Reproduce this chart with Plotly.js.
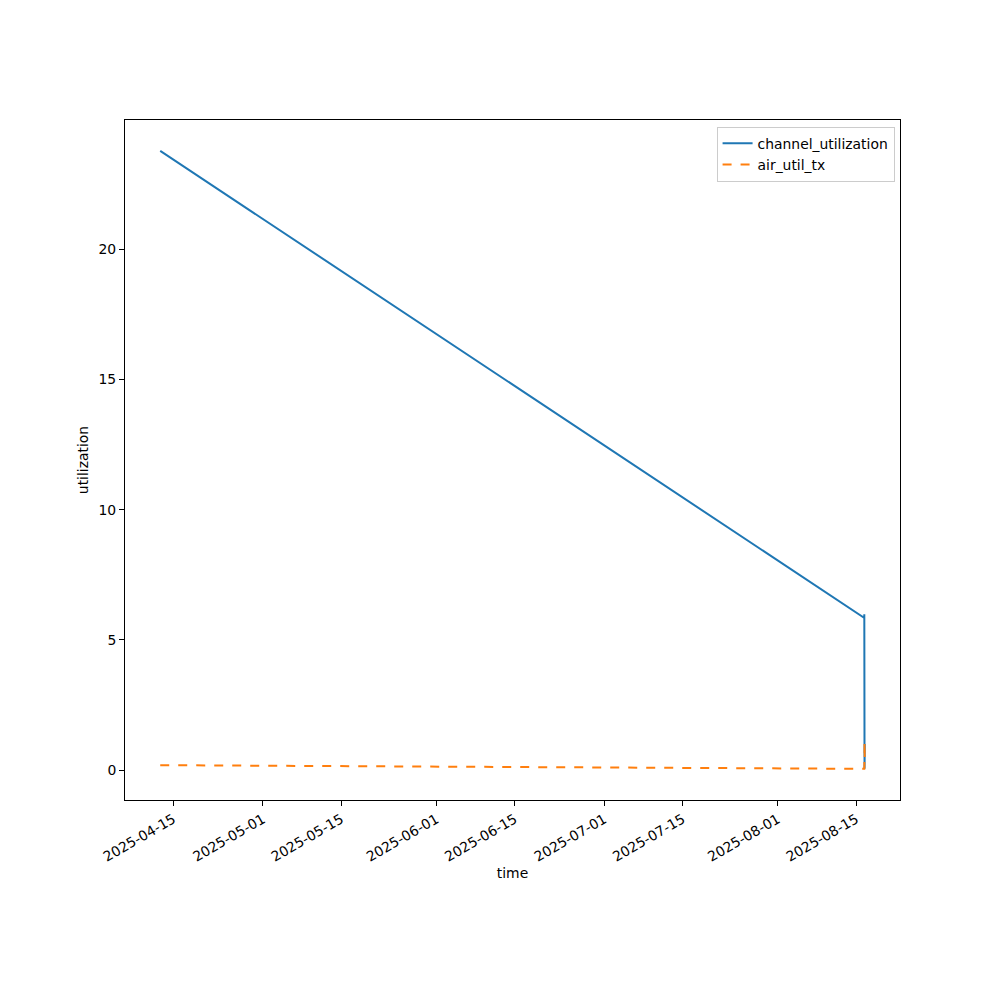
<!DOCTYPE html>
<html><head><meta charset="utf-8">
<script src="https://cdn.plot.ly/plotly-3.0.1.min.js"></script>
<style>body{margin:0;background:#fff}#c{width:1000px;height:1000px}</style>
</head><body><div id="c"></div>
<script>
const times = ["2025-04-12 16:00", "2025-08-16 10:00", "2025-08-16 11:00", "2025-08-16 12:00", "2025-08-16 13:00"];
const channelUtilization = [23.77, 5.85, 5.98, 0.05, 1.0];
const airUtilTx = [0.19, 0.04, 0.05, 1.1, 0.3];
const xTicks = ["2025-04-15","2025-05-01","2025-05-15","2025-06-01","2025-06-15","2025-07-01","2025-07-15","2025-08-01","2025-08-15"];
const yTicks = [0, 5, 10, 15, 20];

const tms = times.map(t => new Date(t.replace(' ', 'T') + 'Z').getTime());
const tmin = Math.min(...tms), tmax = Math.max(...tms);
const xpad = (tmax - tmin) * 0.05;
const iso = ms => new Date(ms).toISOString().replace('T', ' ').slice(0, 19);
const allY = channelUtilization.concat(airUtilTx);
const ymin = Math.min(...allY), ymax = Math.max(...allY);
const ypad = (ymax - ymin) * 0.05;

const font = {family: "DejaVu Sans", size: 13.9, color: "#000"};
const traces = [
  {x: times, y: channelUtilization, name: "channel_utilization", mode: "lines", type: "scatter",
   line: {color: "#1f77b4", width: 2}},
  {x: times, y: airUtilTx, name: "air_util_tx", mode: "lines", type: "scatter",
   line: {color: "#ff7f0e", width: 2, dash: "dash"}}
];
const layout = {
  width: 1000, height: 1000, paper_bgcolor: "#fff", plot_bgcolor: "#fff",
  margin: {l: 125, r: 100, t: 120, b: 200},
  font: font, showlegend: true,
  xaxis: {type: "date", range: [iso(tmin - xpad), iso(tmax + xpad)],
    tickvals: xTicks, ticktext: xTicks, tickangle: -30,
    ticks: "outside", ticklen: 5, tickwidth: 1, tickcolor: "#000",
    showgrid: false, zeroline: false, showline: true, linecolor: "#000", linewidth: 1, mirror: true,
    title: {text: "time", font: font, standoff: 4}, tickfont: font},
  yaxis: {range: [ymin - ypad, ymax + ypad], tickvals: yTicks,
    ticks: "outside", ticklen: 5, tickwidth: 1, tickcolor: "#000",
    showgrid: false, zeroline: false, showline: true, linecolor: "#000", linewidth: 1, mirror: true,
    title: {text: "utilization", font: font, standoff: 6}, tickfont: font},
  legend: {x: 0.993, y: 0.99, xanchor: "right", yanchor: "top", bgcolor: "rgba(255,255,255,0.8)",
    bordercolor: "#cccccc", borderwidth: 1, font: {family: "DejaVu Sans", size: 13.9, color: "#000"},
    tracegroupgap: 0, itemwidth: 30}
};
Plotly.newPlot("c", traces, layout, {staticPlot: true});
</script></body></html>
